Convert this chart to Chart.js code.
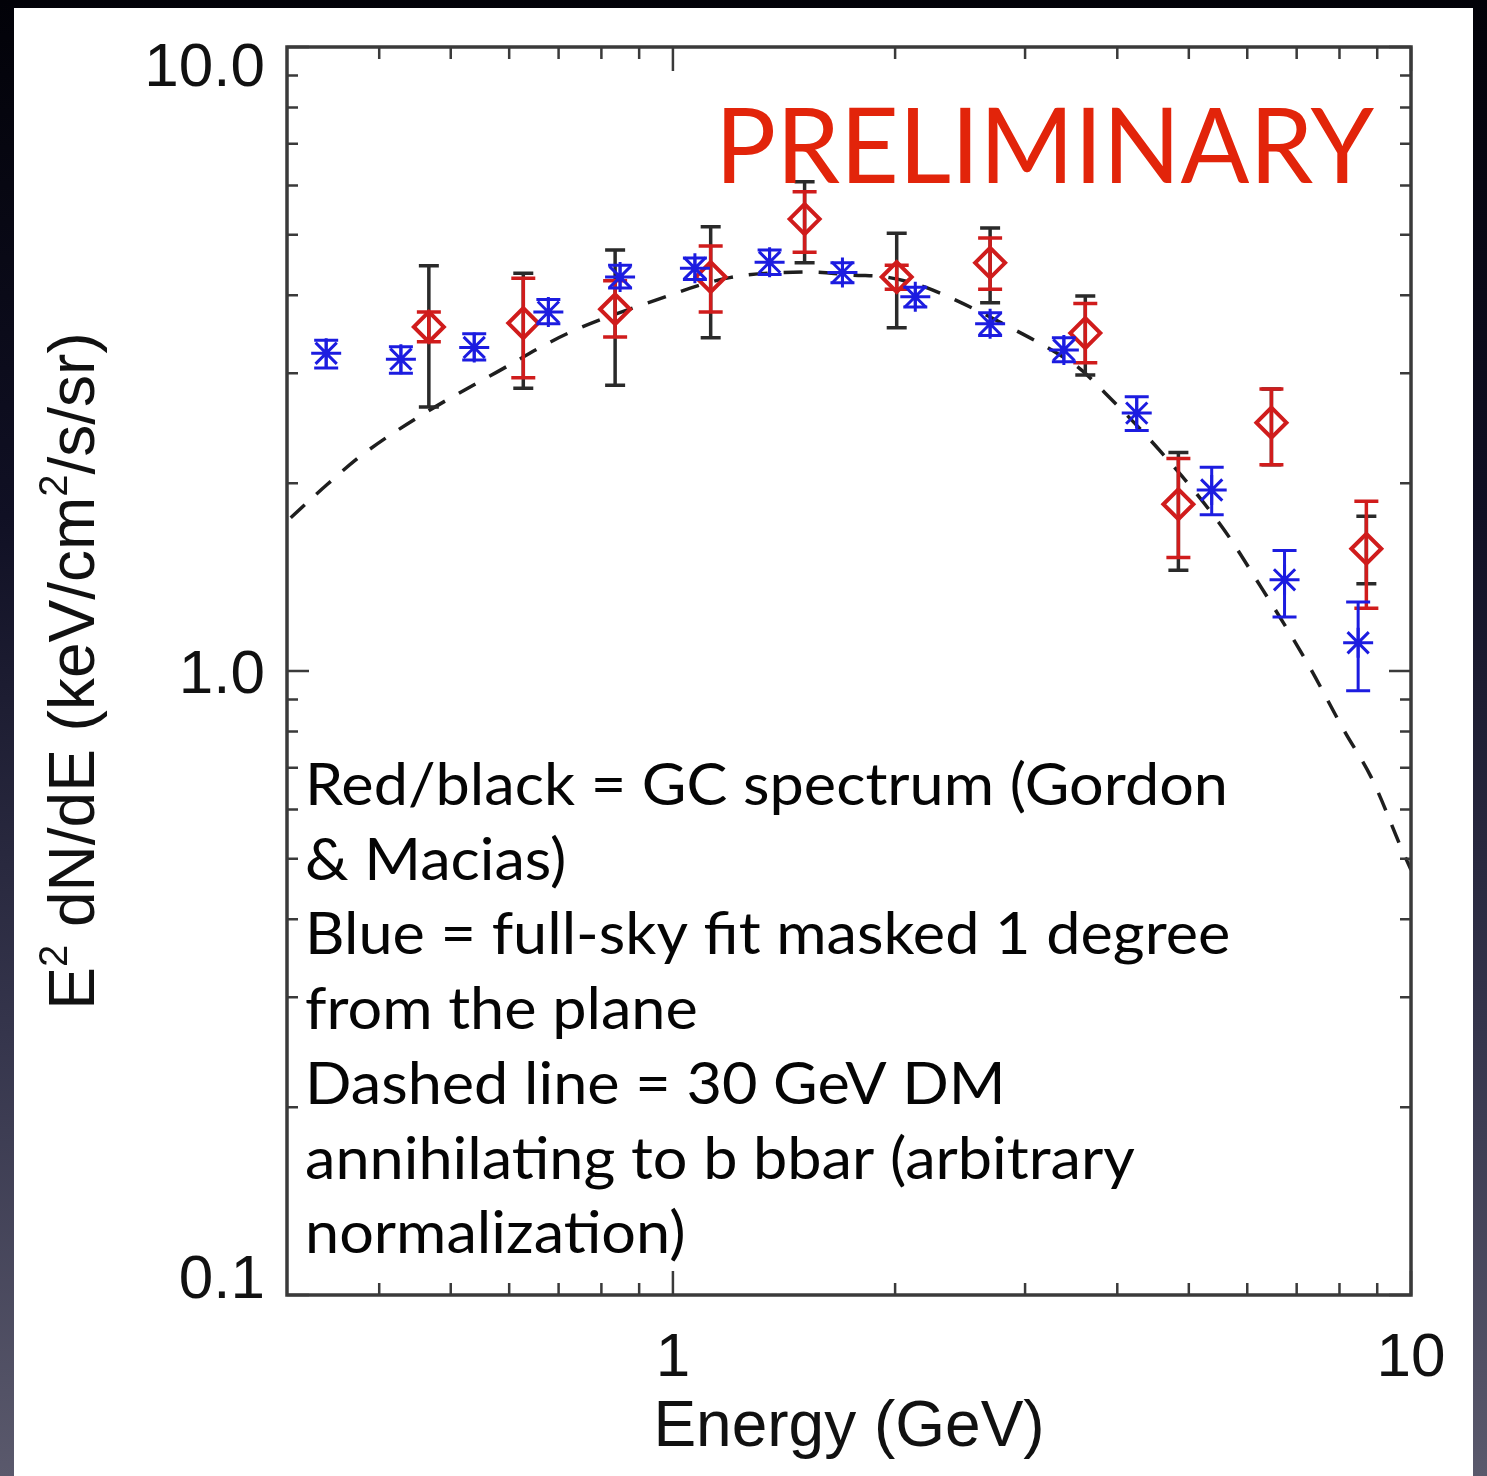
<!DOCTYPE html>
<html>
<head>
<meta charset="utf-8">
<script src="https://cdn.jsdelivr.net/npm/chart.js@4.4.1/dist/chart.umd.min.js"></script>
<style>
  html, body { margin: 0; padding: 0; width: 1487px; height: 1476px; overflow: hidden; }
  body {
    position: relative;
    background: linear-gradient(to bottom, #020208 0%, #101024 35%, #35354c 70%, #5a596c 100%);
  }
  #panel { position: absolute; left: 14px; top: 8px; width: 1459px; height: 1468px; background: #fff; }
  #c { position: absolute; left: 0; top: 0; }
</style>
</head>
<body>
<div id="panel"></div>
<canvas id="c" width="1487" height="1476"></canvas>
<script>
// Energies in GeV, E^2 dN/dE in keV/cm^2/s/sr

// Blue: full-sky fit masked 1 degree from the plane
const blueE  = [0.339, 0.428, 0.538, 0.678, 0.848, 1.071, 1.352, 1.697, 2.13, 2.69, 3.386, 4.25, 5.37, 6.74, 8.48];
const blueV  = [3.23, 3.16, 3.30, 3.76, 4.28, 4.42, 4.52, 4.35, 3.98, 3.60, 3.27, 2.59, 1.95, 1.40, 1.11];
const blueHi = [3.39, 3.31, 3.47, 3.94, 4.47, 4.59, 4.73, 4.51, 4.12, 3.75, 3.42, 2.75, 2.12, 1.56, 1.29];
const blueLo = [3.06, 3.00, 3.15, 3.60, 4.11, 4.24, 4.32, 4.19, 3.83, 3.45, 3.13, 2.43, 1.78, 1.22, 0.93];

// Red/black: GC spectrum (Gordon & Macias)
const redE    = [0.467, 0.627, 0.835, 1.125, 1.508, 2.01, 2.69, 3.62, 4.84, 6.47, 8.70];
const redV    = [3.56, 3.61, 3.80, 4.28, 5.30, 4.28, 4.51, 3.48, 1.85, 2.50, 1.57];
const redHi   = [3.76, 4.26, 4.22, 4.80, 5.86, 4.47, 4.94, 3.88, 2.19, 2.83, 1.87];
const redLo   = [3.37, 2.95, 3.43, 3.76, 4.69, 4.09, 4.09, 3.12, 1.52, 2.14, 1.26];
const blackHi = [4.46, 4.34, 4.73, 5.15, 6.08, 5.03, 5.13, 3.99, 2.24, 2.83, 1.77];
const blackLo = [2.65, 2.84, 2.87, 3.42, 4.51, 3.55, 3.89, 2.98, 1.45, 2.14, 1.38];

// Dashed: 30 GeV DM -> b bbar (arbitrary normalization)
const dmE = [0.3035, 0.34, 0.385, 0.4637, 0.5765, 0.7257, 0.931, 1.194, 1.522, 1.751, 1.965, 2.246, 2.79, 3.47, 3.85, 4.59, 5.49, 6.27, 7.17, 8.11, 8.83, 9.69, 10.0];
const dmV = [1.76, 1.99, 2.25, 2.60, 3.01, 3.49, 3.90, 4.27, 4.36, 4.31, 4.27, 4.08, 3.61, 3.12, 2.79, 2.24, 1.73, 1.36, 1.05, 0.804, 0.676, 0.522, 0.480];

// axis ticks
const xTickValues = [1, 10];
const xTickLabels = ['1', '10'];
const yTickValues = [0.1, 1, 10];
const yTickLabels = ['0.1', '1.0', '10.0'];
const xMinorTicks = [0.4, 0.5, 0.6, 0.7, 0.8, 0.9, 2, 3, 4, 5, 6, 7, 8, 9];
const yMinorTicks = [0.2, 0.3, 0.4, 0.5, 0.6, 0.7, 0.8, 0.9, 2, 3, 4, 5, 6, 7, 8, 9];

const noteLines = [
    'Red/black = GC spectrum (Gordon',
    '& Macias)',
    'Blue = full-sky fit masked 1 degree',
    'from the plane',
    'Dashed line = 30 GeV DM',
    'annihilating to b bbar (arbitrary',
    'normalization)',
];

const AXIS = '#3a3a3a';
const RED = '#d01c1c';
const BLUE = '#1c1ce0';

const pts = (xs, ys) => xs.map((x, i) => ({ x, y: ys[i] }));

function drawBars(chart, xsVals, bar) {
    const { ctx } = chart;
    const xs = chart.scales.x, ys = chart.scales.y;
    ctx.save();
    ctx.strokeStyle = bar.color;
    ctx.lineWidth = bar.width;
    xsVals.forEach((e, i) => {
        const px = xs.getPixelForValue(e);
        const top = ys.getPixelForValue(bar.hi[i]);
        const bot = ys.getPixelForValue(bar.lo[i]);
        ctx.beginPath();
        ctx.moveTo(px, top); ctx.lineTo(px, bot);
        ctx.moveTo(px - bar.cap, top); ctx.lineTo(px + bar.cap, top);
        ctx.moveTo(px - bar.cap, bot); ctx.lineTo(px + bar.cap, bot);
        ctx.stroke();
    });
    ctx.restore();
}

const framePlugin = {
    id: 'idlFrame',
    beforeDatasetDraw(chart, args) {
        const ds = chart.data.datasets[args.index];
        if (!ds.bars) return;
        ds.bars.forEach((b) => drawBars(chart, ds.energies, b));
    },
    afterDraw(chart) {
        const { ctx, chartArea: a } = chart;
        const xs = chart.scales.x, ys = chart.scales.y;
        ctx.save();

        // ticks on all four sides, pointing inward
        ctx.strokeStyle = AXIS;
        ctx.lineWidth = 2.5;
        const xTick = (v, len) => {
            const px = xs.getPixelForValue(v);
            ctx.beginPath();
            ctx.moveTo(px, a.bottom); ctx.lineTo(px, a.bottom - len);
            ctx.moveTo(px, a.top); ctx.lineTo(px, a.top + len);
            ctx.stroke();
        };
        const yTick = (v, len) => {
            const py = ys.getPixelForValue(v);
            ctx.beginPath();
            ctx.moveTo(a.left, py); ctx.lineTo(a.left + len, py);
            ctx.moveTo(a.right, py); ctx.lineTo(a.right - len, py);
            ctx.stroke();
        };
        xMinorTicks.forEach((v) => xTick(v, 12));
        xTickValues.forEach((v) => xTick(v, 24));
        yMinorTicks.forEach((v) => yTick(v, 11));
        yTickValues.forEach((v) => yTick(v, 22));

        // axis box
        ctx.lineWidth = 3.5;
        ctx.strokeRect(a.left, a.top, a.right - a.left, a.bottom - a.top);

        // tick labels
        ctx.fillStyle = '#111';
        ctx.font = '62px "Liberation Sans", Arial, sans-serif';
        ctx.textBaseline = 'alphabetic';
        ctx.textAlign = 'right';
        yTickValues.forEach((v, i) => {
            let py = ys.getPixelForValue(v);
            py = Math.min(Math.max(py, a.top + 17), a.bottom - 19);
            ctx.fillText(yTickLabels[i], a.left - 22, py + 22);
        });
        ctx.textAlign = 'center';
        xTickValues.forEach((v, i) => {
            ctx.fillText(xTickLabels[i], xs.getPixelForValue(v), a.bottom + 81);
        });

        // x title
        ctx.font = '64px "Liberation Sans", Arial, sans-serif';
        ctx.fillText('Energy (GeV)', (a.left + a.right) / 2, a.bottom + 151);

        // y title with superscripts
        const parts = [
            ['E', false], ['2', true], [' dN/dE (keV/cm', false], ['2', true], ['/s/sr)', false],
        ];
        const big = '64px "Liberation Sans", Arial, sans-serif';
        const small = '40px "Liberation Sans", Arial, sans-serif';
        let total = 0;
        parts.forEach(([t, sup]) => { ctx.font = sup ? small : big; total += ctx.measureText(t).width; });
        ctx.save();
        ctx.translate(94, (a.top + a.bottom) / 2);
        ctx.rotate(-Math.PI / 2);
        ctx.textAlign = 'left';
        let cx = -total / 2;
        parts.forEach(([t, sup]) => {
            ctx.font = sup ? small : big;
            ctx.fillText(t, cx, sup ? -27 : 0);
            cx += ctx.measureText(t).width;
        });
        ctx.restore();

        // PRELIMINARY stamp
        ctx.save();
        ctx.font = '104px Lato, "Open Sans", sans-serif';
        ctx.textAlign = 'left';
        const pw = ctx.measureText('PRELIMINARY').width;
        ctx.translate(715, 183);
        ctx.scale(659 / pw, 1);
        ctx.fillStyle = '#e2240a';
        ctx.fillText('PRELIMINARY', 0, 0);
        ctx.restore();

        // annotation
        ctx.save();
        ctx.font = '59px Lato, "Open Sans", sans-serif';
        ctx.textAlign = 'left';
        ctx.fillStyle = '#050505';
        const sx = 923 / ctx.measureText(noteLines[0]).width;
        noteLines.forEach((line, i) => {
            ctx.save();
            ctx.translate(305, 805 + i * 74.7);
            ctx.scale(sx, 1);
            ctx.fillText(line, 0, 0);
            ctx.restore();
        });
        ctx.restore();

        ctx.restore();
    },
};

new Chart(document.getElementById('c'), {
    type: 'scatter',
    data: {
        datasets: [
            {
                label: '30 GeV DM',
                data: pts(dmE, dmV),
                showLine: true,
                borderColor: '#1e1e1e',
                borderWidth: 3.5,
                borderDash: [19, 16],
                tension: 0.35,
                pointRadius: 0,
                fill: false,
                order: 3,
            },
            {
                label: 'GC spectrum',
                data: pts(redE, redV),
                energies: redE,
                bars: [
                    { lo: blackLo, hi: blackHi, color: '#2a2a2a', width: 3.5, cap: 10 },
                    { lo: redLo, hi: redHi, color: RED, width: 3.5, cap: 12 },
                ],
                pointStyle: 'rectRot',
                pointRadius: 15,
                pointBorderWidth: 4,
                pointBorderColor: RED,
                pointBackgroundColor: 'rgba(0,0,0,0)',
                order: 2,
            },
            {
                label: 'Full sky',
                data: pts(blueE, blueV),
                energies: blueE,
                bars: [
                    { lo: blueLo, hi: blueHi, color: BLUE, width: 3, cap: 12 },
                ],
                pointStyle: 'star',
                pointRadius: 15,
                pointBorderWidth: 3,
                pointBorderColor: BLUE,
                pointBackgroundColor: BLUE,
                order: 1,
            },
        ],
    },
    options: {
        responsive: false,
        animation: false,
        devicePixelRatio: 1,
        layout: { padding: { left: 287, top: 47, right: 76, bottom: 181 } },
        plugins: { legend: { display: false }, tooltip: { enabled: false } },
        scales: {
            x: { type: 'logarithmic', min: 0.305, max: 10, display: false },
            y: { type: 'logarithmic', min: 0.1, max: 10, display: false },
        },
    },
    plugins: [framePlugin],
});
</script>
</body>
</html>
